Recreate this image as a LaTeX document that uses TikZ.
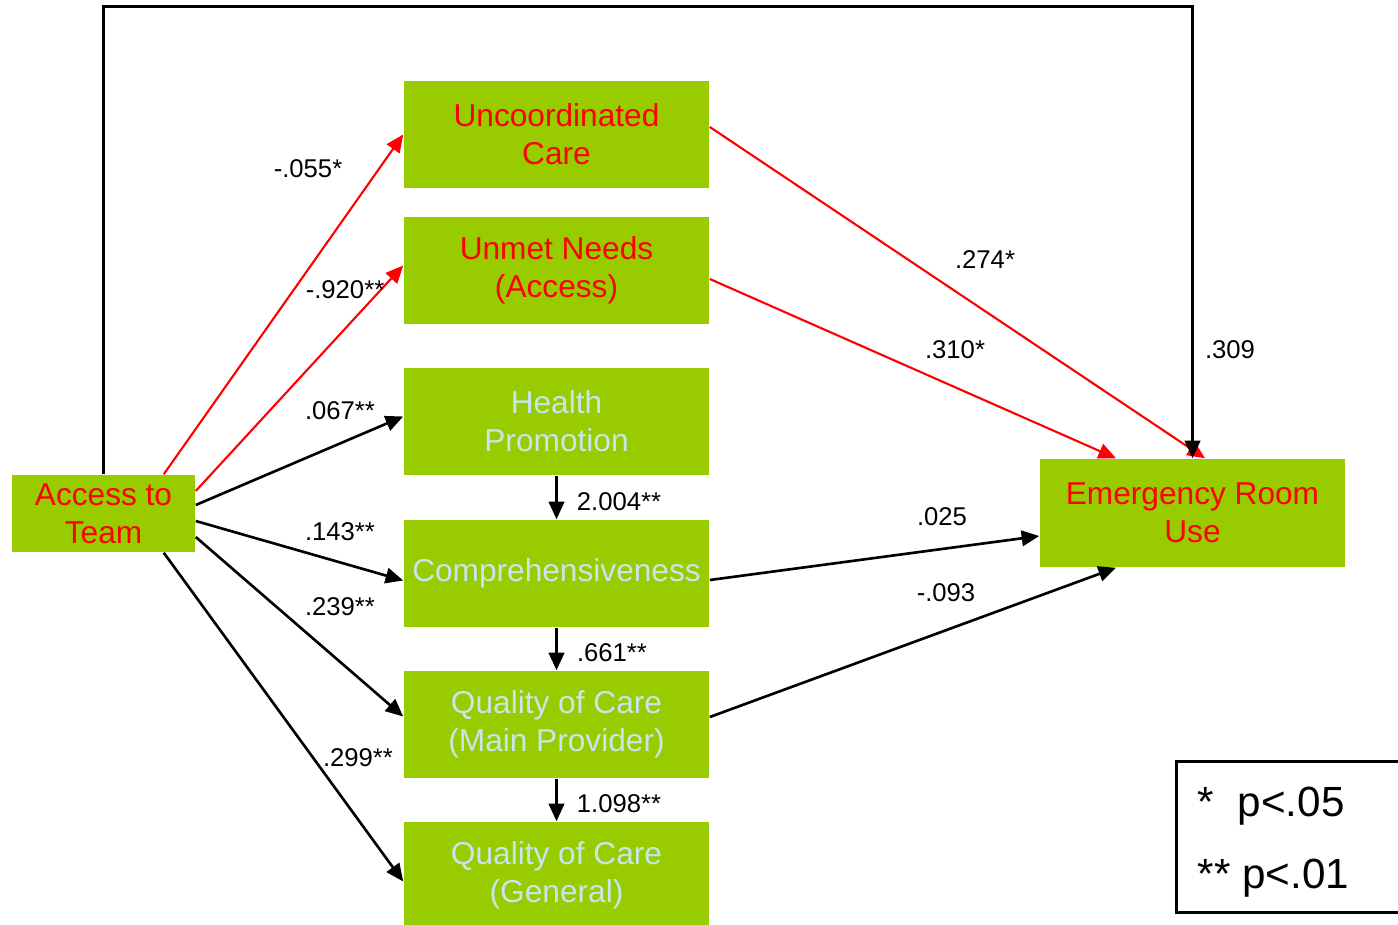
\documentclass[tikz,border=0pt]{standalone}
\usepackage{fontspec}
\setmainfont{Liberation Sans}
\usetikzlibrary{arrows.meta,calc}
\definecolor{boxgreen}{HTML}{99CC00}
\definecolor{lblue}{HTML}{C6E6EE}
\tikzset{
  box/.style={fill=boxgreen, minimum width=3.05cm, minimum height=1.07cm, inner sep=0pt, align=center, font=\fontsize{9}{10.8}\selectfont},
  redtxt/.style={text=red},
  bluetxt/.style={text=lblue},
  lbl/.style={font=\fontsize{7.3}{8.5}\selectfont, inner sep=0pt},
  legtxt/.style={font=\fontsize{12}{14}\selectfont, inner sep=0pt, anchor=base west},
  blk/.style={draw=black, line width=0.75pt, -{Triangle[length=5pt,width=4.4pt]}},
  rd/.style={draw=red, line width=0.6pt, -{Triangle[length=5pt,width=4.4pt]}}
}
\begin{document}
\begin{tikzpicture}[x=0.01cm,y=-0.01cm]
\useasboundingbox (0,0) rectangle (1398,925);
% boxes
\node[box, redtxt, minimum width=1.83cm, minimum height=0.77cm] (acc) at (103.5,513.5) {Access to\\Team};
\node[box, redtxt] (unc) at (556.5,134.5) {Uncoordinated\\Care};
\node[box, redtxt] (unm) at (556.5,270.5) {Unmet Needs\\(Access)};
\node[box, bluetxt] (hp) at (556.5,421.5) {Health\\Promotion};
\node[box, bluetxt] (comp) at (556.5,573.5) {Comprehensiveness};
\node[box, bluetxt] (qm) at (556.5,724.5) {Quality of Care\\(Main Provider)};
\node[box, bluetxt] (qg) at (556.5,875.5) {Quality of Care\\(General)};
\node[box, redtxt, minimum height=1.08cm] (er) at (1192.5,513) {Emergency Room\\Use};
% legend
\node[draw=black, line width=0.85pt, minimum width=2.25cm, minimum height=1.5cm, inner sep=0pt] (leg) at (1289,837) {};
\node[legtxt] (l1a) at (1197,816) {*};
\node[legtxt] (l1b) at (1237,816) {p<.05};
\node[legtxt] (l2) at (1197,888) {** p<.01};
% connectors from Access
\draw[rd] ($(acc.north east)+(-32,0)$) -- (unc.west);
\draw[rd] ($(acc.east)+(0,-22.5)$) -- ($(unm.west)+(0,-5)$);
\draw[blk] ($(acc.east)+(0,-8.5)$) -- ($(hp.west)+(0,-5)$);
\draw[blk] ($(acc.east)+(0,7.5)$) -- ($(comp.west)+(0,7)$);
\draw[blk] ($(acc.east)+(0,23.5)$) -- ($(qm.west)+(0,-8)$);
\draw[blk] ($(acc.south east)+(-32,0)$) -- ($(qg.west)+(0,6)$);
% vertical chain
\draw[blk] (hp.south) -- (comp.north);
\draw[blk] (comp.south) -- (qm.north);
\draw[blk] (qm.south) -- (qg.north);
% to ER
\draw[rd] ($(unc.east)+(0,-7.5)$) -- ($(er.north)+(12.5,0)$);
\draw[rd] ($(unm.east)+(0,8.5)$) -- ($(er.north)+(-76.5,0)$);
\draw[blk] ($(comp.east)+(0,6.5)$) -- ($(er.west)+(0,23)$);
\draw[blk] ($(qm.east)+(0,-7.5)$) -- ($(er.south)+(-76.5,0)$);
\draw[blk] (acc.north) -- ++(0,-468) -| (er.north);
% labels
\node[lbl] (t1) at (308,169) {-.055*};
\node[lbl] (t2) at (345,290) {-.920**};
\node[lbl] (t3) at (340,411) {.067**};
\node[lbl] (t4) at (340,532) {.143**};
\node[lbl] (t5) at (340,607) {.239**};
\node[lbl] (t6) at (358,758) {.299**};
\node[lbl] (t7) at (985,260) {.274*};
\node[lbl] (t8) at (955,350) {.310*};
\node[lbl] (t9) at (1230,350) {.309};
\node[lbl] (t10) at (942,517) {.025};
\node[lbl] (t11) at (946,593) {-.093};
\node[lbl] (t12) at (619,502) {2.004**};
\node[lbl] (t13) at (612,653) {.661**};
\node[lbl] (t14) at (619,804) {1.098**};
\end{tikzpicture}
\end{document}
